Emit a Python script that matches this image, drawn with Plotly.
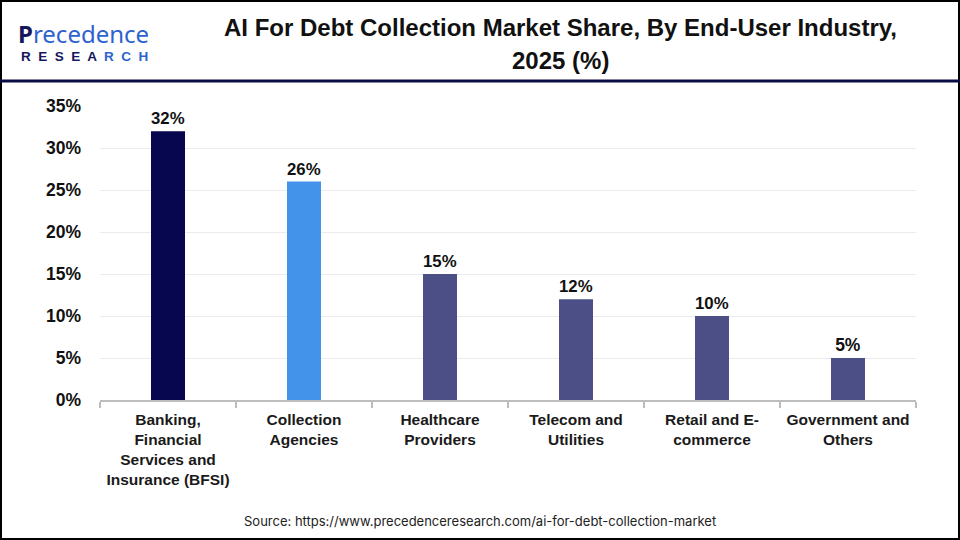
import plotly.graph_objects as go

categories = ["Banking,<br>Financial<br>Services and<br>Insurance (BFSI)", "Collection<br>Agencies",
              "Healthcare<br>Providers", "Telecom and<br>Utilities", "Retail and E-<br>commerce",
              "Government and<br>Others"]
values = [32, 26, 15, 12, 10, 5]
bar_colors = ["#07074F", "#4493EA", "#4B4F86", "#4B4F86", "#4B4F86", "#4B4F86"]
y_ticks = [0, 5, 10, 15, 20, 25, 30, 35]
y_tick_labels = [f"{v}%" for v in y_ticks]

FONT = "Liberation Sans, Arial, sans-serif"

fig = go.Figure(go.Bar(
    x=categories, y=values, marker_color=bar_colors, marker_line_width=0,
    text=[f"<b>{v}%</b>" for v in values], textposition="outside",
    textfont=dict(family=FONT, size=17.5, color="#111111"), cliponaxis=False,
    hoverinfo="skip",
))

fig.update_layout(
    width=960, height=540, paper_bgcolor="white", plot_bgcolor="white",
    margin=dict(l=100, r=44, t=106, b=140),
    bargap=0.75, showlegend=False,
    font=dict(family=FONT, color="#111111"),
    xaxis=dict(showline=True, linecolor="#BDBDBD", linewidth=2, ticks="outside",
               tickson="boundaries", ticklen=6, tickcolor="#BDBDBD", tickwidth=2,
               tickfont=dict(family=FONT, size=15.5, color="#1a1a1a"), ticklabelstandoff=4,
               tickangle=0,
               tickvals=categories, ticktext=[f"<b>{c}</b>" for c in categories],
               automargin=False),
    yaxis=dict(range=[0, 35], tickvals=y_ticks, ticktext=[f"<b>{t}</b>" for t in y_tick_labels],
               showgrid=True, gridcolor="#EBEBEB", gridwidth=1, zeroline=False,
               tickfont=dict(family=FONT, size=17.5, color="#111111"), ticklabelstandoff=18,
               automargin=False),
    shapes=[
        dict(type="rect", xref="paper", yref="paper", x0=-99/816, x1=1+43/816,
             y0=-139/294, y1=1+105/294, line=dict(color="#000000", width=2)),
        dict(type="line", xref="paper", yref="paper", x0=-100/816, x1=1+44/816,
             y0=1+(106-81)/294, y1=1+(106-81)/294, line=dict(color="#0B0B45", width=3)),
    ],
    annotations=[
        dict(text="<b>AI For Debt Collection Market Share, By End-User Industry,</b>",
             xref="paper", yref="paper", x=(560-100)/816, y=1+(106-28)/294,
             showarrow=False, font=dict(family=FONT, size=24, color="#111111"),
             xanchor="center", yanchor="middle"),
        dict(text="<b>2025 (%)</b>",
             xref="paper", yref="paper", x=(560-100)/816, y=1+(106-60)/294,
             showarrow=False, font=dict(family=FONT, size=24, color="#111111"),
             xanchor="center", yanchor="middle"),
        dict(text="<span style='color:#15165C'><b>P</b></span><span style='color:#2E63CF'>recedence</span>",
             xref="paper", yref="paper",
             x=(16-100)/816, y=1+(106-33)/294, showarrow=False,
             font=dict(family="Noto Sans, sans-serif", size=24, color="#2E63CF"),
             xanchor="left", yanchor="middle"),
        dict(text="<b><span style='color:#15165C'>R  E  S  E  A</span>"
                  "<span style='color:#2E63CF'>  R  C  H</span></b>",
             xref="paper", yref="paper",
             x=(19-100)/816, y=1+(106-56)/294, showarrow=False,
             font=dict(family=FONT, size=13.5, color="#15165C"),
             xanchor="left", yanchor="middle"),
        dict(text="Source: https://www.precedenceresearch.com/ai-for-debt-collection-market",
             xref="paper", yref="paper", x=(480-100)/816, y=-(521-400)/294,
             showarrow=False, font=dict(family="Inter, sans-serif", size=13, color="#222222"),
             xanchor="center", yanchor="middle"),
    ],
)

fig.write_html("out.html", config={"displayModeBar": False},
               post_script="document.body.style.margin='0';")
